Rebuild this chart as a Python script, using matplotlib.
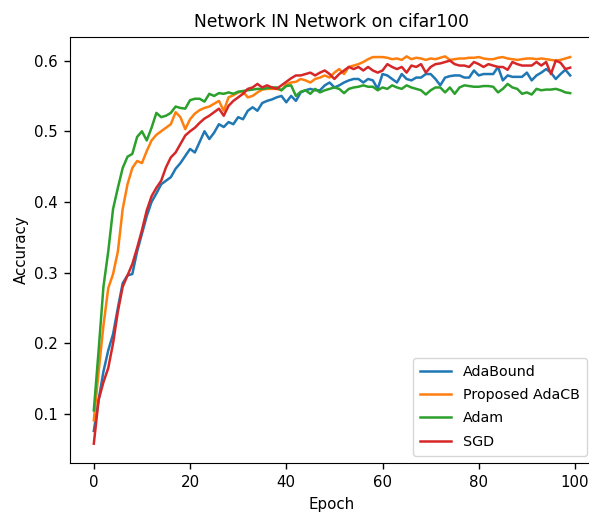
import numpy as np
import matplotlib
matplotlib.use("Agg")
import matplotlib.pyplot as plt

epochs = np.arange(100)

adabound = [
    0.076, 0.120, 0.160, 0.190, 0.213, 0.250, 0.285, 0.296, 0.298, 0.330,
    0.355, 0.380, 0.400, 0.412, 0.425, 0.430, 0.435, 0.447, 0.455, 0.465,
    0.475, 0.470, 0.485, 0.500, 0.489, 0.498, 0.510, 0.506, 0.513, 0.510,
    0.520, 0.517, 0.529, 0.534, 0.529, 0.540, 0.543, 0.545, 0.548, 0.550,
    0.541, 0.550, 0.543, 0.555, 0.558, 0.560, 0.558, 0.558, 0.565, 0.569,
    0.562, 0.565, 0.569, 0.572, 0.574, 0.574, 0.569, 0.574, 0.572, 0.560,
    0.581, 0.579, 0.574, 0.569, 0.581, 0.574, 0.572, 0.576, 0.576, 0.581,
    0.581, 0.574, 0.565, 0.576, 0.578, 0.579, 0.579, 0.576, 0.576, 0.586,
    0.579, 0.581, 0.581, 0.581, 0.591, 0.572, 0.579, 0.577, 0.577, 0.577,
    0.583, 0.572, 0.579, 0.583, 0.588, 0.583, 0.574, 0.581, 0.587, 0.579,
]

adacb = [
    0.091, 0.160, 0.225, 0.278, 0.298, 0.330, 0.390, 0.425, 0.448, 0.458,
    0.455, 0.472, 0.487, 0.495, 0.500, 0.505, 0.510, 0.527, 0.520, 0.503,
    0.517, 0.525, 0.530, 0.533, 0.535, 0.539, 0.543, 0.529, 0.548, 0.551,
    0.555, 0.556, 0.548, 0.550, 0.555, 0.559, 0.560, 0.560, 0.560, 0.558,
    0.566, 0.569, 0.570, 0.574, 0.572, 0.569, 0.574, 0.576, 0.579, 0.576,
    0.583, 0.588, 0.581, 0.591, 0.593, 0.595, 0.598, 0.602, 0.605, 0.605,
    0.605, 0.604, 0.602, 0.603, 0.601, 0.606, 0.602, 0.604, 0.603, 0.601,
    0.603, 0.602, 0.604, 0.606, 0.601, 0.602, 0.603, 0.603, 0.604, 0.604,
    0.605, 0.603, 0.602, 0.602, 0.604, 0.605, 0.603, 0.602, 0.601, 0.602,
    0.603, 0.603, 0.602, 0.603, 0.602, 0.601, 0.600, 0.601, 0.603, 0.605,
]

adam = [
    0.105, 0.190, 0.280, 0.330, 0.390, 0.420, 0.448, 0.464, 0.468, 0.492,
    0.500, 0.487, 0.505, 0.526, 0.520, 0.522, 0.526, 0.535, 0.533, 0.532,
    0.544, 0.546, 0.546, 0.542, 0.553, 0.550, 0.554, 0.553, 0.555, 0.553,
    0.556, 0.557, 0.558, 0.559, 0.560, 0.560, 0.561, 0.562, 0.562, 0.558,
    0.564, 0.565, 0.550, 0.556, 0.558, 0.553, 0.560, 0.555, 0.558, 0.560,
    0.562, 0.560, 0.554, 0.560, 0.562, 0.563, 0.565, 0.563, 0.563, 0.558,
    0.562, 0.560, 0.565, 0.562, 0.560, 0.565, 0.562, 0.560, 0.558, 0.552,
    0.558, 0.562, 0.562, 0.555, 0.562, 0.553, 0.562, 0.565, 0.564, 0.563,
    0.563, 0.564, 0.564, 0.563, 0.555, 0.560, 0.567, 0.562, 0.560, 0.553,
    0.555, 0.552, 0.560, 0.558, 0.559, 0.559, 0.560, 0.558, 0.555, 0.554,
]

sgd = [
    0.058, 0.120, 0.145, 0.165, 0.200, 0.245, 0.280, 0.296, 0.312, 0.335,
    0.360, 0.388, 0.408, 0.420, 0.430, 0.449, 0.463, 0.470, 0.482, 0.494,
    0.500, 0.505, 0.512, 0.518, 0.522, 0.527, 0.532, 0.522, 0.536, 0.543,
    0.548, 0.553, 0.560, 0.562, 0.567, 0.562, 0.565, 0.562, 0.560, 0.565,
    0.570, 0.575, 0.579, 0.579, 0.581, 0.583, 0.579, 0.583, 0.586, 0.581,
    0.574, 0.581, 0.586, 0.591, 0.588, 0.591, 0.586, 0.591, 0.586, 0.583,
    0.586, 0.595, 0.591, 0.588, 0.591, 0.583, 0.593, 0.591, 0.595, 0.583,
    0.591, 0.595, 0.596, 0.598, 0.600, 0.595, 0.593, 0.593, 0.591, 0.598,
    0.595, 0.591, 0.595, 0.593, 0.591, 0.591, 0.587, 0.598, 0.595, 0.593,
    0.593, 0.593, 0.598, 0.593, 0.598, 0.581, 0.600, 0.597, 0.588, 0.590,
]

series = [
    ("AdaBound", adabound, "tab:blue"),
    ("Proposed AdaCB", adacb, "tab:orange"),
    ("Adam", adam, "tab:green"),
    ("SGD", sgd, "tab:red"),
]

fs = 10.8
fig = plt.figure(figsize=(5.89, 5.14), dpi=100)
ax = fig.add_axes([70 / 589, 51 / 514, 524 / 589, 426 / 514])

for name, vals, col in series:
    ax.plot(epochs, vals, color=col, lw=1.8, label=name)

ax.set_title("Network IN Network on cifar100", fontsize=12.3, pad=7)
ax.set_xlabel("Epoch", fontsize=fs, labelpad=5)
ax.set_ylabel("Accuracy", fontsize=fs, labelpad=4)
ax.tick_params(labelsize=fs, length=4.5, width=1.0, pad=4.0)
ax.set_xticks([0, 20, 40, 60, 80, 100])
ax.set_yticks([0.1, 0.2, 0.3, 0.4, 0.5, 0.6])
ax.legend(loc="lower right", fontsize=10.3, borderpad=0.5, labelspacing=0.65,
          handlelength=2.2)

fig.savefig("out.png", dpi=100)
